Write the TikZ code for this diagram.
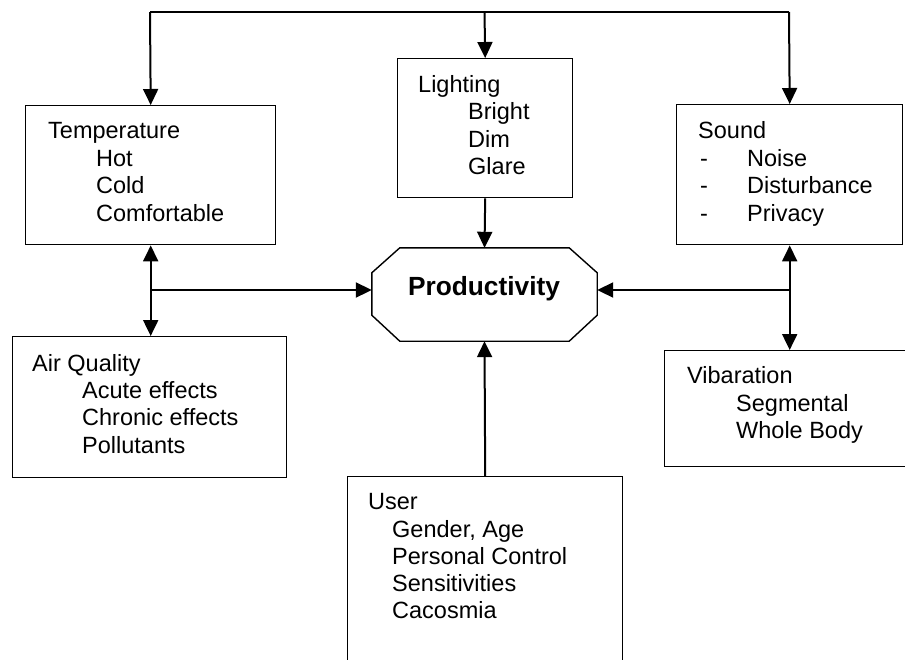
\documentclass[tikz,border=0pt]{standalone}
\usepackage{fontspec}
\setmainfont{Liberation Sans}
\usetikzlibrary{arrows.meta,calc}
\newcommand\tline[4]{\node[txt] (#1) at (#2,#3) {#4};}
\begin{document}
\begin{tikzpicture}[x=1pt,y=-1pt,
  box/.style={draw,line width=1.4pt,inner sep=0pt,anchor=north west},
  txt/.style={anchor=base west,inner sep=0pt,font=\fontsize{23.5}{27.5}\selectfont},
  conn/.style={line width=2pt},
  arr/.style={conn,-{Triangle[length=16pt,width=15pt]}},
  darr/.style={conn,{Triangle[length=16pt,width=15pt]}-{Triangle[length=16pt,width=15pt]}}]
\useasboundingbox (0,0) rectangle (905,659);
\clip (0,0) rectangle (905,659);
\fill[white] (0,0) rectangle (905,659);
% boxes
\node[box,minimum width=250pt,minimum height=139pt] (temp) at (25,105) {};
\node[box,minimum width=175pt,minimum height=139pt] (light) at (397,58) {};
\node[box,minimum width=226pt,minimum height=140pt] (sound) at (676,104) {};
\node[box,minimum width=274pt,minimum height=141pt] (air) at (12,336) {};
\node[box,minimum width=250pt,minimum height=116pt] (vib) at (664,350) {};
\node[box,minimum width=275pt,minimum height=260pt] (user) at (347,476) {};
% productivity octagon
\node[minimum width=225pt,minimum height=93pt,inner sep=0pt] (prod) at (484.5,294.5) {};
\draw[line width=1.4pt] ($(prod.north west)+(28,0)$) -- ($(prod.north east)+(-28,0)$)
  -- ($(prod.north east)+(0,25)$) -- ($(prod.south east)+(0,-26)$)
  -- ($(prod.south east)+(-28,0)$) -- ($(prod.south west)+(28,0)$)
  -- ($(prod.south west)+(0,-26)$) -- ($(prod.north west)+(0,25)$) -- cycle;
\node[anchor=base,inner sep=0pt,font=\fontsize{26.3}{30}\selectfont\bfseries] (prodtext) at (484,295) {Productivity};
% texts
\tline{t1}{48}{138}{Temperature}
\tline{t2}{96}{166}{Hot}
\tline{t3}{96}{193}{Cold}
\tline{t4}{96}{221}{Comfortable}
\tline{l1}{418}{92}{Lighting}
\tline{l2}{468}{119}{Bright}
\tline{l3}{468}{147}{Dim}
\tline{l4}{468}{174}{Glare}
\tline{s1}{698}{138}{Sound}
\tline{s2d}{700}{166}{-}
\tline{s2}{747}{166}{Noise}
\tline{s3d}{700}{193}{-}
\tline{s3}{747}{193}{Disturbance}
\tline{s4d}{700}{221}{-}
\tline{s4}{747}{221}{Privacy}
\tline{a1}{32}{371}{Air Quality}
\tline{a2}{82}{398}{Acute effects}
\tline{a3}{82}{425}{Chronic effects}
\tline{a4}{82}{453}{Pollutants}
\tline{v1}{687}{383}{Vibaration}
\tline{v2}{736}{411}{Segmental}
\tline{v3}{736}{438}{Whole Body}
\tline{u1}{368}{509}{User}
\tline{u2}{392}{537}{Gender, Age}
\tline{u3}{392}{564}{Personal Control}
\tline{u4}{392}{591}{Sensitivities}
\tline{u5}{392}{618}{Cacosmia}
% connectors
\coordinate (tl) at (150,12);
\coordinate (tm) at (484.5,12);
\coordinate (tr) at (789,12);
\draw[conn] (tl) -- (tr);
\draw[arr] (tl) -- (temp.north);
\draw[arr] (tm) -- (light.north);
\draw[arr] (tr) -- (sound.north);
\draw[arr] (light.south) -- (prod.north);
\draw[arr] (user.north) -- (prod.south);
\draw[darr] (temp.south) -- (temp.south |- air.north);
\draw[darr] (sound.south) -- (sound.south |- vib.north);
\coordinate (jl) at (150,290);
\coordinate (jr) at (789,290);
\draw[arr] (jl) -- (prod.west |- jl);
\draw[arr] (jr) -- (prod.east |- jr);
\end{tikzpicture}
\end{document}
